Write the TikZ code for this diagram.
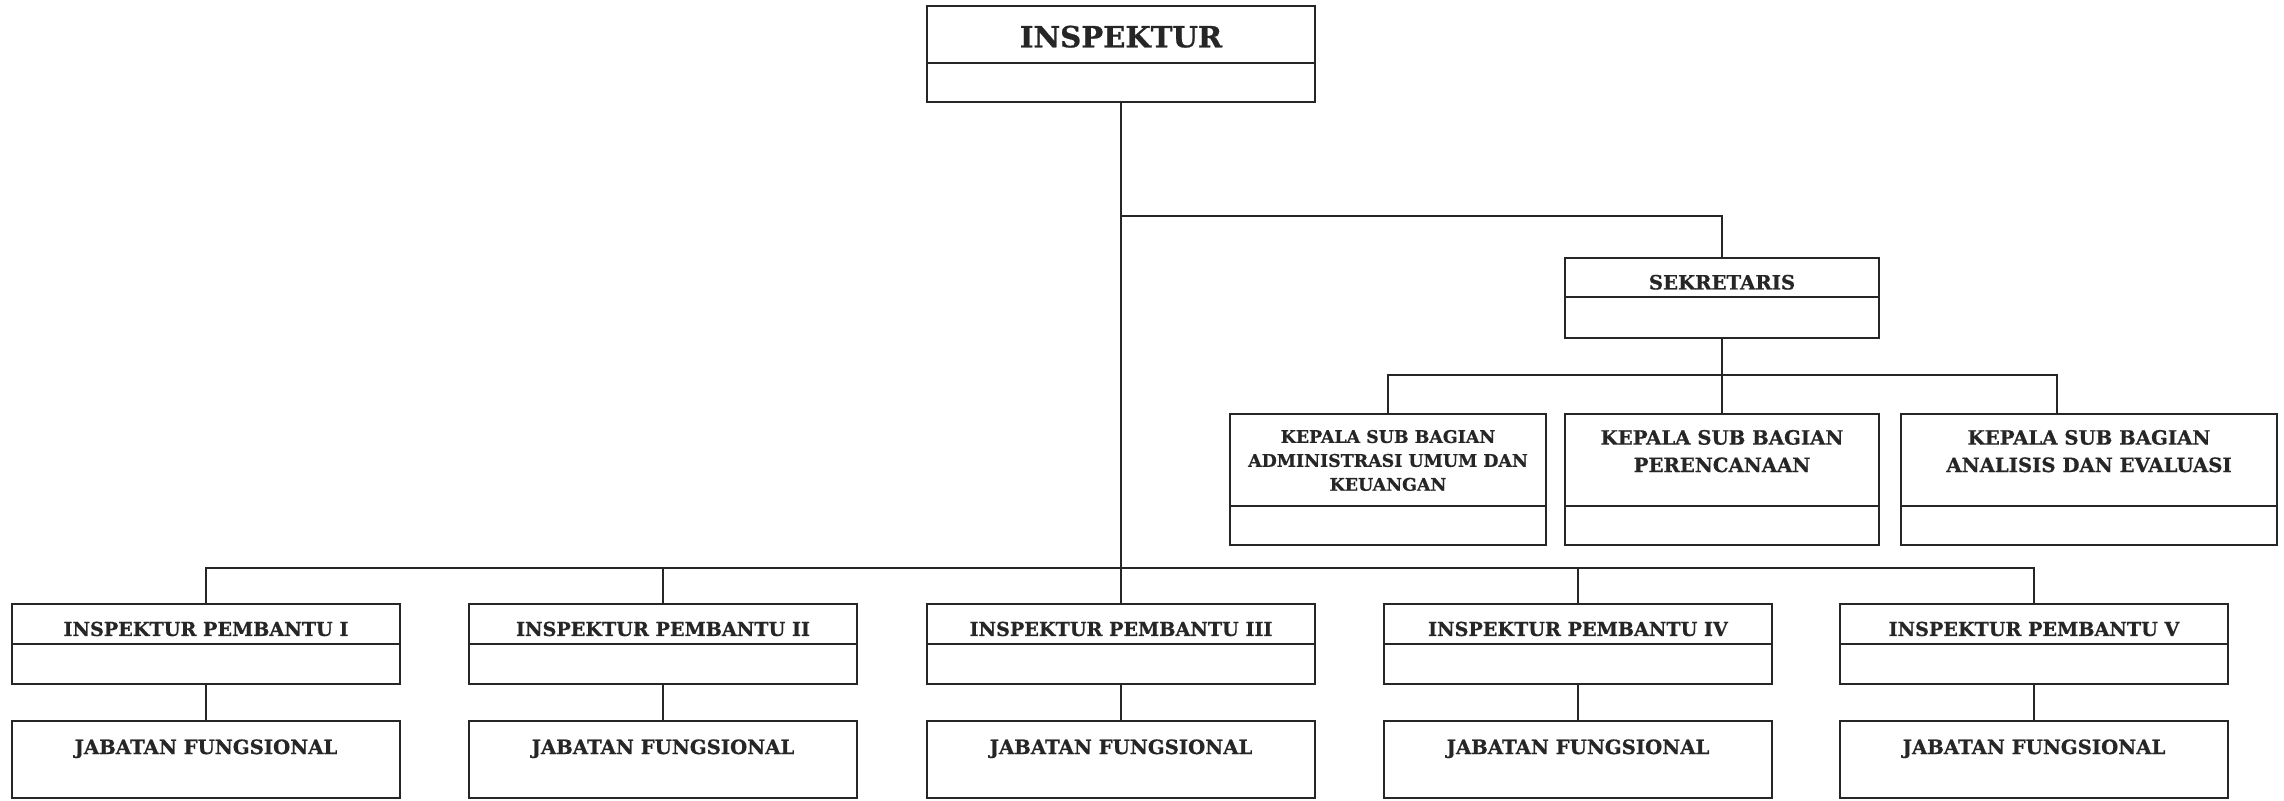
\documentclass[tikz,border=0pt]{standalone}
\usepackage{fontspec}
\setmainfont{DejaVu Serif}
\newfontfamily\boxfamily[FakeBold=0.8]{DejaVu Serif}
\usetikzlibrary{positioning}
\definecolor{ink}{HTML}{262626}
\newcommand{\five}{\fontsize{5.6}{7.8}\selectfont}
\newcommand{\fivesmall}{\fontsize{4.95}{6.8}\selectfont}
\newcommand{\nine}{\fontsize{8.3}{10}\selectfont}
\newcommand{\subtext}[2][\five]{\parbox[c][6mm][t]{31.4mm}{\centering#1 #2}}
\tikzset{
 every node/.append style={text=ink,inner sep=0pt,outer sep=0pt},
 box/.style={draw=ink,line width=.8pt,rectangle,font=\boxfamily\bfseries\five},
 head/.style={box,text height=6.8pt,text depth=0pt},
 helper/.style={head,font=\boxfamily\bfseries\fontsize{5.45}{7}\selectfont,minimum width=38.8mm,minimum height=4mm,anchor=north},
 foot/.style={box,anchor=north},
 title/.style={box,font=\boxfamily\bfseries\nine,text height=7.3pt,text depth=0pt},
 jabatan/.style={box,minimum width=38.8mm,minimum height=7.7mm,text height=9.4pt,text depth=12.5pt},
 route/.style={draw=ink,line width=.6pt},
}

\begin{document}
\begin{tikzpicture}
\useasboundingbox (0,0) rectangle (22.84,-8.01);

% top
\node[title,minimum width=38.8mm,minimum height=5.7mm,anchor=north] (insp) at (11.21,-.06) {INSPEKTUR};
\node[foot,minimum width=38.8mm,minimum height=3.9mm] (insp-foot) at (insp.south) {};

% secretariat
\node[head,minimum width=31.4mm,minimum height=3.9mm,anchor=north] (sek) at (17.22,-2.58) {SEKRETARIS};
\node[foot,minimum width=31.4mm,minimum height=4.1mm] (sek-foot) at (sek.south) {};

\node[box,minimum width=31.6mm,minimum height=9.2mm,anchor=north] (kasub-umum) at (13.88,-4.14)
  {\subtext[\fivesmall]{KEPALA SUB BAGIAN\\ADMINISTRASI UMUM DAN\\KEUANGAN}};
\node[foot,minimum width=31.6mm,minimum height=3.9mm] (kasub-umum-foot) at (kasub-umum.south) {};

\node[box,minimum width=31.4mm,minimum height=9.2mm,anchor=north] (kasub-rencana) at (17.22,-4.14)
  {\subtext{KEPALA SUB BAGIAN\\PERENCANAAN}};
\node[foot,minimum width=31.4mm,minimum height=3.9mm] (kasub-rencana-foot) at (kasub-rencana.south) {};

\node[box,minimum width=37.6mm,minimum height=9.2mm,anchor=north] (kasub-evaluasi) at (20.89,-4.14)
  {\subtext{KEPALA SUB BAGIAN\\ANALISIS DAN EVALUASI}};
\node[foot,minimum width=37.6mm,minimum height=3.9mm] (kasub-evaluasi-foot) at (kasub-evaluasi.south) {};

% inspektur pembantu
\node[helper] (ip1) at (2.06,-6.04) {INSPEKTUR PEMBANTU I};
\node[foot,minimum width=38.8mm,minimum height=4mm] (ip1-foot) at (ip1.south) {};
\node[jabatan,anchor=north] (jf1) at (2.06,-7.21) {JABATAN FUNGSIONAL};

\node[helper] (ip2) at (6.63,-6.04) {INSPEKTUR PEMBANTU II};
\node[foot,minimum width=38.8mm,minimum height=4mm] (ip2-foot) at (ip2.south) {};
\node[jabatan,anchor=north] (jf2) at (6.63,-7.21) {JABATAN FUNGSIONAL};

\node[helper] (ip3) at (11.21,-6.04) {INSPEKTUR PEMBANTU III};
\node[foot,minimum width=38.8mm,minimum height=4mm] (ip3-foot) at (ip3.south) {};
\node[jabatan,anchor=north] (jf3) at (11.21,-7.21) {JABATAN FUNGSIONAL};

\node[helper] (ip4) at (15.78,-6.04) {INSPEKTUR PEMBANTU IV};
\node[foot,minimum width=38.8mm,minimum height=4mm] (ip4-foot) at (ip4.south) {};
\node[jabatan,anchor=north] (jf4) at (15.78,-7.21) {JABATAN FUNGSIONAL};

\node[helper] (ip5) at (20.34,-6.04) {INSPEKTUR PEMBANTU V};
\node[foot,minimum width=38.8mm,minimum height=4mm] (ip5-foot) at (ip5.south) {};
\node[jabatan,anchor=north] (jf5) at (20.34,-7.21) {JABATAN FUNGSIONAL};

% lines
\draw[route] (insp-foot.south) -- (ip3.north);
\coordinate (fork) at (11.21,-2.16);
\draw[route] (fork) -| (sek.north);
\draw[route] (sek-foot.south) -- (kasub-rencana.north);
\coordinate (subbus) at (17.22,-3.75);
\draw[route] (kasub-umum.north) |- (subbus) -| ([xshift=-3.2mm]kasub-evaluasi.north);

\coordinate (bus) at (11.21,-5.68);
\draw[route] (ip1.north) |- (bus) -| (ip5.north);
\draw[route] (bus) -| (ip2.north);
\draw[route] (bus) -| (ip4.north);

\draw[route] (ip1-foot.south) -- (jf1.north);
\draw[route] (ip2-foot.south) -- (jf2.north);
\draw[route] (ip3-foot.south) -- (jf3.north);
\draw[route] (ip4-foot.south) -- (jf4.north);
\draw[route] (ip5-foot.south) -- (jf5.north);
\end{tikzpicture}
\end{document}
